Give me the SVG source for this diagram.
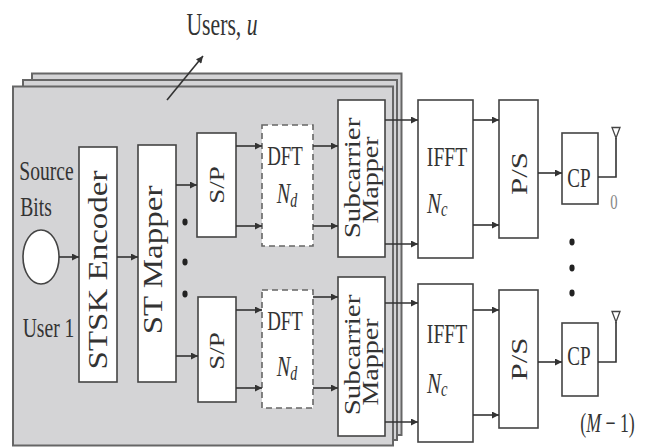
<svg xmlns="http://www.w3.org/2000/svg" width="649" height="447" viewBox="0 0 649 447">
<defs>
<marker id="ah" viewBox="0 0 10 10" refX="10" refY="5" markerWidth="9" markerHeight="7" markerUnits="userSpaceOnUse" orient="auto">
<path d="M0,0 L10,5 L0,10 z" fill="#333"/>
</marker>
<style>
.panel{fill:#d4d4d6;stroke:#666;stroke-width:2}
.box{fill:#fff;stroke:#444;stroke-width:1.6}
.dbox{fill:#fff;stroke:#666;stroke-width:1.6;stroke-dasharray:6,4}
.t{font-family:"Liberation Serif","Times New Roman",serif;fill:#333}
.i{font-style:italic}
.c{stroke:#333;stroke-width:1.6;fill:none}
.a{stroke:#333;stroke-width:1.6;fill:none;marker-end:url(#ah)}
.dot{fill:#222}
</style>
</defs>
<rect width="649" height="447" fill="#fff"/>
<g id="panels">
<rect class="panel" x="32" y="73.5" width="369.5" height="361.5"/>
<rect class="panel" x="23" y="80" width="374" height="360"/>
<rect class="panel" x="13" y="86.5" width="380" height="359"/>
</g>
<g id="users-label">
<text class="t" font-size="31" text-anchor="middle" transform="translate(222,35) scale(0.7,1)">Users, <tspan class="i">u</tspan></text>
</g>
<g id="source">
<ellipse cx="41" cy="257" rx="18" ry="27" fill="#fff" stroke="#444" stroke-width="1.6"/>
<text class="t" font-size="28" text-anchor="middle" transform="translate(46.5,180) scale(0.7,1)">Source</text>
<text class="t" font-size="28" text-anchor="middle" transform="translate(36,216) scale(0.7,1)">Bits</text>
<text class="t" font-size="28" text-anchor="middle" transform="translate(48.5,337) scale(0.7,1)">User 1</text>
</g>
<g id="stsk-encoder">
<rect class="box" x="79" y="147" width="38" height="235"/>
<text class="t" font-size="33" text-anchor="middle" transform="translate(107,270) scale(0.85,1) rotate(-90)">STSK Encoder</text>
</g>
<g id="st-mapper">
<rect class="box" x="138" y="145" width="38" height="237"/>
<text class="t" font-size="33" text-anchor="middle" transform="translate(162,260) scale(0.85,1) rotate(-90)">ST Mapper</text>
</g>
<g id="sp-1">
<rect class="box" x="197" y="133" width="39" height="104"/>
<text class="t" font-size="27" text-anchor="middle" transform="translate(224,185) scale(0.8,1) rotate(-90)">S/P</text>
</g>
<g id="sp-2">
<rect class="box" x="198" y="297" width="38" height="105"/>
<text class="t" font-size="27" text-anchor="middle" transform="translate(224,351) scale(0.8,1) rotate(-90)">S/P</text>
</g>
<g id="dft-1">
<rect class="dbox" x="262" y="125" width="51" height="121"/>
<text class="t" font-size="27" text-anchor="middle" transform="translate(285,165) scale(0.7,1)">DFT</text>
<text class="t i" font-size="29" text-anchor="middle" transform="translate(287,203) scale(0.7,1)">N<tspan font-size="20" dy="4">d</tspan></text>
</g>
<g id="dft-2">
<rect class="dbox" x="262" y="290" width="51" height="118"/>
<text class="t" font-size="27" text-anchor="middle" transform="translate(285,330) scale(0.7,1)">DFT</text>
<text class="t i" font-size="29" text-anchor="middle" transform="translate(287,376) scale(0.7,1)">N<tspan font-size="20" dy="4">d</tspan></text>
</g>
<g id="subcarrier-mapper-1">
<rect class="box" x="338" y="100" width="47" height="157"/>
<text class="t" font-size="29" text-anchor="middle" transform="translate(360,178) scale(0.8,1) rotate(-90)">Subcarrier</text>
<text class="t" font-size="28" text-anchor="middle" transform="translate(378,180) scale(0.8,1) rotate(-90)">Mapper</text>
</g>
<g id="subcarrier-mapper-2">
<rect class="box" x="338" y="277" width="47" height="159"/>
<text class="t" font-size="29" text-anchor="middle" transform="translate(360,355) scale(0.8,1) rotate(-90)">Subcarrier</text>
<text class="t" font-size="28" text-anchor="middle" transform="translate(378,362) scale(0.8,1) rotate(-90)">Mapper</text>
</g>
<g id="ifft-1">
<rect class="box" x="418" y="100" width="55" height="158"/>
<text class="t" font-size="28" text-anchor="middle" transform="translate(447,166) scale(0.7,1)">IFFT</text>
<text class="t i" font-size="30" transform="translate(427,213) scale(0.7,1)">N<tspan font-size="21" dy="3">c</tspan></text>
</g>
<g id="ifft-2">
<rect class="box" x="418" y="284" width="55" height="158"/>
<text class="t" font-size="28" text-anchor="middle" transform="translate(447,343) scale(0.7,1)">IFFT</text>
<text class="t i" font-size="30" transform="translate(427,393) scale(0.7,1)">N<tspan font-size="21" dy="3">c</tspan></text>
</g>
<g id="ps-1">
<rect class="box" x="499" y="100" width="39" height="138"/>
<text class="t" font-size="31" text-anchor="middle" transform="translate(527,173.5) scale(0.75,1) rotate(-90)">P/S</text>
</g>
<g id="ps-2">
<rect class="box" x="499" y="290" width="39" height="138"/>
<text class="t" font-size="31" text-anchor="middle" transform="translate(527,359) scale(0.75,1) rotate(-90)">P/S</text>
</g>
<g id="cp-1">
<rect class="box" x="562" y="133" width="36" height="71"/>
<text class="t" font-size="28" text-anchor="middle" transform="translate(579,187) scale(0.68,1)">CP</text>
</g>
<g id="cp-2">
<rect class="box" x="562" y="323" width="36" height="73"/>
<text class="t" font-size="28" text-anchor="middle" transform="translate(579,365) scale(0.68,1)">CP</text>
</g>
<g id="antenna-0">
<path d="M612,127.5 L620,127.5 L616,138 z" fill="#fff" stroke="#444" stroke-width="1.3"/>
<text class="t" font-size="21" text-anchor="middle" transform="translate(614,209) scale(0.7,1)" style="fill:#888">0</text>
</g>
<g id="antenna-m1">
<path d="M612,311.5 L620,311.5 L616,322 z" fill="#fff" stroke="#444" stroke-width="1.3"/>
<text class="t" font-size="27" text-anchor="middle" transform="translate(607.5,432) scale(0.66,1)">(<tspan class="i">M</tspan> − 1)</text>
</g>
<g id="dots">
<ellipse class="dot" cx="185" cy="222" rx="2.6" ry="3.4"/>
<ellipse class="dot" cx="185" cy="262" rx="2.6" ry="3.4"/>
<ellipse class="dot" cx="185" cy="294" rx="2.6" ry="3.4"/>
<ellipse class="dot" cx="572" cy="242" rx="2.6" ry="3.4"/>
<ellipse class="dot" cx="572" cy="268" rx="2.6" ry="3.4"/>
<ellipse class="dot" cx="572" cy="293" rx="2.6" ry="3.4"/>
</g>
<g id="connectors">
<line class="a" x1="167" y1="100" x2="203" y2="56"/>
<line class="a" x1="59" y1="257" x2="79" y2="257"/>
<line class="a" x1="117" y1="257" x2="138" y2="257"/>
<line class="a" x1="176" y1="185" x2="197" y2="185"/>
<line class="a" x1="176" y1="356" x2="198" y2="356"/>
<line class="a" x1="236" y1="146" x2="262" y2="146"/>
<line class="a" x1="236" y1="226" x2="262" y2="226"/>
<line class="a" x1="313" y1="146" x2="338" y2="146"/>
<line class="a" x1="313" y1="226" x2="338" y2="226"/>
<line class="a" x1="236" y1="310" x2="262" y2="310"/>
<line class="a" x1="236" y1="388" x2="262" y2="388"/>
<line class="a" x1="313" y1="297" x2="338" y2="297"/>
<line class="a" x1="313" y1="388" x2="338" y2="388"/>
<line class="a" x1="385" y1="120" x2="418" y2="120"/>
<line class="a" x1="385" y1="244" x2="418" y2="244"/>
<line class="a" x1="385" y1="303" x2="418" y2="303"/>
<line class="a" x1="385" y1="422" x2="418" y2="422"/>
<line class="a" x1="473" y1="120" x2="499" y2="120"/>
<line class="a" x1="473" y1="225" x2="499" y2="225"/>
<line class="a" x1="473" y1="310" x2="499" y2="310"/>
<line class="a" x1="473" y1="415" x2="499" y2="415"/>
<line class="a" x1="538" y1="173" x2="562" y2="173"/>
<line class="a" x1="538" y1="362" x2="562" y2="362"/>
<polyline class="c" points="598,177 616,177 616,138"/>
<polyline class="c" points="598,362 616,362 616,322"/>
</g>
</svg>
